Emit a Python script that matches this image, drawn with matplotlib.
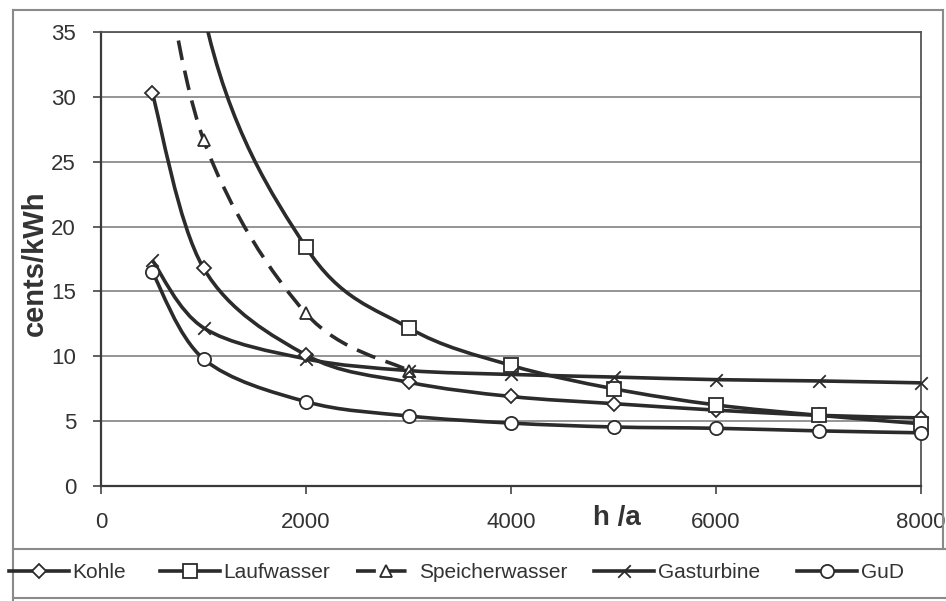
import numpy as np
import matplotlib
matplotlib.use("Agg")
import matplotlib.pyplot as plt
from matplotlib.path import Path
from matplotlib.patches import PathPatch
from matplotlib.lines import Line2D

plt.rcParams['font.family'] = ['Liberation Sans', 'DejaVu Sans']

# data (cents/kWh over full-load hours per year)
hours = [500, 1000, 2000, 3000, 4000, 5000, 6000, 7000, 8000]
kohle = [30.3, 16.8, 10.1, 8.0, 6.9, 6.35, 5.85, 5.45, 5.25]
laufwasser = [73.0, 36.5, 18.4, 12.2, 9.3, 7.5, 6.25, 5.45, 4.8]
speicher_hours = [500, 1000, 2000, 3000]
speicherwasser = [46.0, 26.7, 13.3, 8.9]
gasturbine = [17.4, 12.2, 9.8, 8.9, 8.6, 8.4, 8.2, 8.1, 7.95]
gud = [16.5, 9.8, 6.5, 5.4, 4.85, 4.55, 4.45, 4.25, 4.1]

labels = ["Kohle", "Laufwasser", "Speicherwasser", "Gasturbine", "GuD"]
xticks = [0, 2000, 4000, 6000, 8000]
yticks = [0, 5, 10, 15, 20, 25, 30, 35]
YMAX = 35

LINE = "#2b2b2b"
LW = 2.6

# marker for Gasturbine: long stroke up-right, short leg down-right
gas_marker = Path([(1, 1), (-1, -1), (0, 0), (1, -1)],
                  [Path.MOVETO, Path.LINETO, Path.MOVETO, Path.LINETO])


def smooth_path(xs, ys):
    # Excel-like smoothed line: cubic bezier through the data points
    pts = np.column_stack([xs, ys]).astype(float)
    n = len(pts)
    verts = [pts[0]]
    codes = [Path.MOVETO]
    for i in range(n - 1):
        p0 = pts[i - 1] if i > 0 else pts[i]
        p1 = pts[i]
        p2 = pts[i + 1]
        p3 = pts[i + 2] if i + 2 < n else p2
        verts += [p1 + (p2 - p0) / 6, p2 - (p3 - p1) / 6, p2]
        codes += [Path.CURVE4] * 3
    return Path(verts, codes)


fig = plt.figure(figsize=(9.46, 6.01), dpi=100)
ax = fig.add_axes([101 / 946, 1 - 486 / 601, 820 / 946, 454 / 601])

series = [
    (hours, kohle, "D", 7, "-"),
    (hours, laufwasser, "s", 9.5, "-"),
    (speicher_hours, speicherwasser, "^", 8.5, (0, (5.5, 3))),
    (hours, gasturbine, gas_marker, 9, "-"),
    (hours, gud, "o", 9.5, "-"),
]

handles = []
for xs, ys, mk, ms, ls in series:
    patch = PathPatch(smooth_path(xs, ys), facecolor="none", edgecolor=LINE,
                      lw=LW, linestyle=ls, zorder=3)
    ax.add_patch(patch)
    # markers only where the point lies inside the value range, unclipped
    shown = [v if v <= YMAX else np.nan for v in ys]
    face = "none" if mk is gas_marker else "white"
    ax.plot(xs, shown, ls="none", marker=mk, ms=ms, mfc=face, mec=LINE,
            mew=1.3, zorder=4, clip_on=False)
    h = Line2D([], [], color=LINE, lw=LW, linestyle=ls, marker=mk, ms=ms,
               mfc=face, mec=LINE, mew=1.3)
    handles.append(h)

ax.set_xlim(0, 8000)
ax.set_ylim(0, YMAX)
ax.set_xticks(xticks)
ax.set_yticks(yticks)
ax.tick_params(axis="x", direction="out", length=6, width=1.2, pad=13,
               labelsize=16, colors="#444444", labelcolor="#333333")
ax.tick_params(axis="y", direction="out", length=6, width=1.2, pad=12,
               labelsize=16, colors="#444444", labelcolor="#333333")
ax.yaxis.grid(True, color="#8c8c8c", lw=1.3)
ax.set_axisbelow(True)
for side in ["left", "bottom"]:
    ax.spines[side].set_color("#3a3a3a")
    ax.spines[side].set_linewidth(1.6)
for side in ["top", "right"]:
    ax.spines[side].set_color("#555555")
    ax.spines[side].set_linewidth(1.3)

ax.text(0.629, -0.07, "h /a", transform=ax.transAxes, ha="center",
        va="center", fontsize=20, fontweight="bold", color="#333333")
fig.text(35 / 946, 1 - 263 / 601, "cents/kWh", rotation=90, ha="center",
         va="center", fontsize=21, fontweight="bold", color="#333333")

# legend entries, one per series, placed along the bottom strip
legend_x = [9, 160, 356, 594, 797]
for h, lab, x in zip(handles, labels, legend_x):
    fig.legend([h], [lab], loc="center left",
               bbox_to_anchor=(x / 946, 1 - 573 / 601), frameon=False,
               handlelength=2.9, handletextpad=0.15, borderpad=0,
               borderaxespad=0, fontsize=15, labelcolor="#333333")

# outer frame of the scanned chart and the legend strip
frame = dict(color="#8a8a8a", lw=1.5, transform=fig.transFigure)
fig.add_artist(Line2D([13 / 946, 13 / 946], [0, 1 - 10 / 601], **frame))
fig.add_artist(Line2D([13 / 946, 943 / 946], [1 - 10 / 601, 1 - 10 / 601], **frame))
fig.add_artist(Line2D([943 / 946, 943 / 946], [1 - 10 / 601, 1 - 549 / 601], **frame))
fig.add_artist(Line2D([13 / 946, 1], [1 - 549 / 601, 1 - 549 / 601], **frame))
fig.add_artist(Line2D([13 / 946, 1], [1 - 598 / 601, 1 - 598 / 601], **frame))

fig.savefig("out.png", dpi=100)
